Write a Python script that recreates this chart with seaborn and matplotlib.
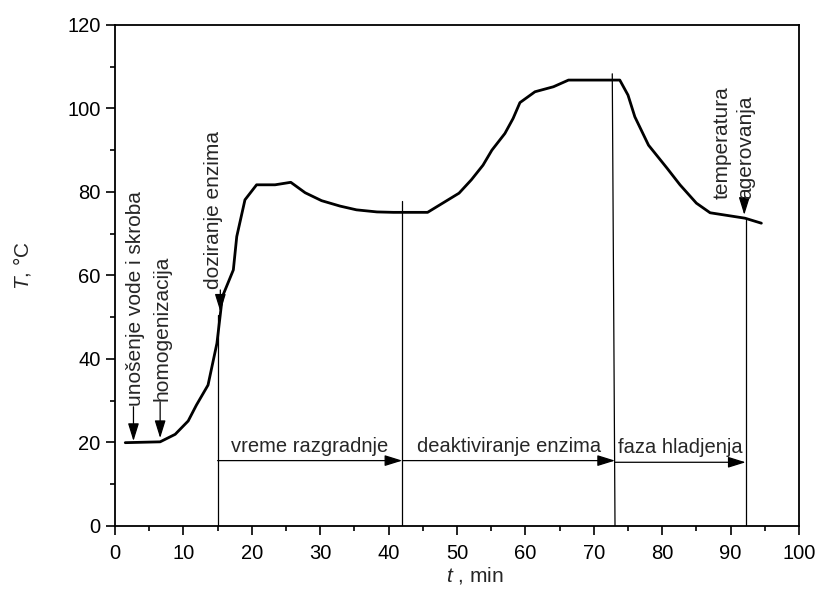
import matplotlib
matplotlib.use("Agg")
import matplotlib.pyplot as plt
import seaborn as sns
import pandas as pd

# ---- data ----
t_min = [1.5, 6.6, 8.8, 10.7, 11.9, 13.6, 14.9, 15.7, 17.3, 17.8, 19.0, 20.7, 23.4,
         25.7, 27.8, 30.2, 32.9, 35.3, 38.3, 40.7, 45.7, 48.0, 50.3, 52.1, 53.8,
         55.1, 57.0, 58.2, 59.2, 61.4, 64.1, 66.3, 73.8, 75.0, 76.0, 78.0, 80.7,
         82.6, 85.0, 87.0, 92.1, 94.5]
T_C = [19.9, 20.1, 21.9, 25.1, 28.9, 33.7, 43.7, 54.9, 61.3, 69.3, 78.1, 81.7, 81.7,
       82.3, 79.8, 77.9, 76.6, 75.7, 75.2, 75.1, 75.1, 77.4, 79.7, 82.9, 86.4,
       90.0, 94.0, 97.6, 101.4, 104.0, 105.2, 106.8, 106.8, 103.2, 98.0, 91.2, 85.7,
       81.7, 77.3, 75.0, 73.7, 72.5]

phase_start = [15, 42, 73.1, 92.2]
phase_top = [50.5, 77.7, 108.3, 73.3]
phase_top_x = [15, 42, 72.7, 92.2]
phase_labels = ["vreme razgradnje", "deaktiviranje enzima", "faza hladjenja"]
phase_arrow_y = [15.6, 15.6, 15.2]

event_labels = ["unošenje vode i skroba", "homogenizacija", "doziranje enzima",
                "temperatura\nagerovanja"]
event_x = [2.7, 6.6, 15.4, 92.0]
event_arrow_top = [28.5, 29.7, 56.5, 78.0]
event_arrow_tip = [20.3, 21.0, 51.3, 74.5]
event_text_x = [3.0, 6.8, 14.4, 90.5]

x_ticks = list(range(0, 101, 10))
y_ticks = list(range(0, 121, 20))

# ---- style ----
sns.set_theme(style="ticks")
plt.rcParams["font.family"] = ["Liberation Sans", "DejaVu Sans"]
plt.rcParams["mathtext.fontset"] = "custom"
plt.rcParams["mathtext.it"] = "Liberation Sans:italic"
plt.rcParams["mathtext.rm"] = "Liberation Sans"

fig, ax = plt.subplots(figsize=(8.19, 6.0), dpi=100)
fig.subplots_adjust(left=115 / 819, right=799 / 819, bottom=1 - 525.7 / 600, top=1 - 25 / 600)

df = pd.DataFrame({"t": t_min, "T": T_C})
sns.lineplot(data=df, x="t", y="T", sort=False, estimator=None, color="black",
             linewidth=2.0, ax=ax)

# phase boundary lines
for xb, xt, yt in zip(phase_start, phase_top_x, phase_top):
    ax.plot([xb, xt], [0, yt], color="black", linewidth=0.9)

# phase arrows and labels
arrow_kw = dict(arrowstyle="-|>,head_length=0.9,head_width=0.28", color="black",
                lw=0.9, shrinkA=0, shrinkB=0)
for i, lab in enumerate(phase_labels):
    x0, x1 = phase_start[i], phase_start[i + 1]
    y = phase_arrow_y[i]
    ax.annotate("", xy=(x1, y), xytext=(x0, y), arrowprops=arrow_kw)
    ax.text((x0 + x1) / 2, y + 1.2, lab, ha="center", va="bottom", fontsize=14.5)

# event arrows + rotated labels
for lab, xa, ytop, ytip, xt in zip(event_labels, event_x, event_arrow_top,
                                   event_arrow_tip, event_text_x):
    ax.annotate("", xy=(xa, ytip), xytext=(xa, ytop), arrowprops=arrow_kw)
    ax.text(xt, ytop + 0.3, lab, rotation=90, ha="center", va="bottom",
            multialignment="left", fontsize=15, linespacing=1.3)

ax.set_xlim(0, 100)
ax.set_ylim(0, 120)
ax.set_xticks(x_ticks)
ax.set_yticks(y_ticks)
ax.set_xticks(range(5, 100, 10), minor=True)
ax.set_yticks(range(10, 120, 20), minor=True)
ax.tick_params(axis="both", which="major", direction="out", length=6.5, width=1.2,
               labelsize=14.5, pad=4, color="black", labelcolor="black")
ax.tick_params(axis="x", which="major", pad=6.5)
ax.tick_params(axis="both", which="minor", direction="out", length=3.6, width=1.2,
               color="black")
for s in ax.spines.values():
    s.set_linewidth(1.3)
    s.set_color("black")
    s.set_visible(True)

ax.set_xlabel(r"$t$ , min", fontsize=15)
ax.set_ylabel(r"$T$, °C", fontsize=15)
ax.xaxis.set_label_coords(0.526, -0.078)
ax.yaxis.set_label_coords(-0.12, 0.52)

fig.savefig("out.png", dpi=100)
